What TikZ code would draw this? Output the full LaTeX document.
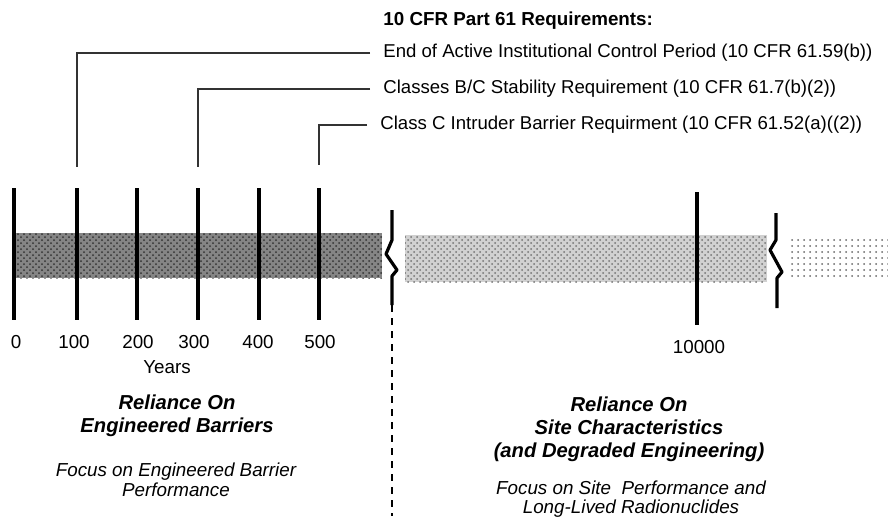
\documentclass[tikz,border=0pt]{standalone}
\usepackage{fontspec}
\setmainfont{Liberation Sans}
\usetikzlibrary{patterns,positioning}

\begin{document}
\begin{tikzpicture}[x=0.5pt,y=-0.5pt,
    tick/.style={line width=1.6pt},
    brk/.style={line width=1.6pt,line join=round},
    leader/.style={line width=0.55pt,black!80},
    req/.style={anchor=west,inner xsep=6.5pt,inner ysep=0pt,font=\fontsize{9.3}{11}\selectfont},
    yrlabel/.style={inner sep=0pt,font=\fontsize{9.4}{11}\selectfont},
    head/.style={align=center,inner sep=0pt,font=\fontsize{10.1}{11.5}\selectfont\bfseries\itshape},
    focus/.style={align=center,inner sep=0pt,font=\fontsize{9.4}{9.8}\selectfont\itshape}]
  \useasboundingbox (0,0) rectangle (888,516);
  % bands
  \fill[black!48] (14,233) rectangle (382,278);
  \fill[pattern=crosshatch dots,pattern color=black!80] (14,233) rectangle (382,278);
  \fill[black!18] (405,235) rectangle (767,282);
  \fill[pattern=crosshatch dots,pattern color=black!55] (405,235) rectangle (767,282);
  \fill[pattern=dots,pattern color=black!60] (788,238) rectangle (888,280);
  % ticks and years
  \foreach \x/\lx/\v in {14/16/0,77/74/100,137/138/200,198/194/300,259/258/400,319/320/500}{
    \draw[tick] (\x,188) -- (\x,320);
    \node[yrlabel] (y\v) at (\lx,342) {\v};
  }
  \draw[tick] (697,192) -- (697,325);
  \node[yrlabel] (y10000) at (699,347) {10000};
  \node[yrlabel] (years) at (167,367) {Years};
  % breaks
  \draw[brk] (392,210) -- (392,240) -- (386,254) -- (397,270) -- (392,276) -- (392,305);
  \draw[line width=0.6pt,dash pattern=on 3.5pt off 3pt] (392,305) -- (392,516);
  \draw[brk] (776,213) -- (776,240) -- (770,250) -- (782,272) -- (777,278) -- (777,308);
  % requirements
  \node[anchor=west,inner sep=0pt,font=\fontsize{9.4}{11}\selectfont\bfseries] (title) at (383,21)
       {10 CFR Part 61 Requirements:};
  \node[req] (req1) at (370,53) {End of Active Institutional Control Period (10 CFR 61.59(b))};
  \node[req] (req2) at (370,89) {Classes B/C Stability Requirement (10 CFR 61.7(b)(2))};
  \node[req] (req3) at (367,125) {Class C Intruder Barrier Requirment (10 CFR 61.52(a)((2))};
  \coordinate (c100) at (77,167);
  \coordinate (c300) at (198,167);
  \coordinate (c500) at (319,165);
  \draw[leader] (req1.west) -| (c100);
  \draw[leader] (req2.west) -| (c300);
  \draw[leader] (req3.west) -| (c500);
  % reliance
  \node[head] (relyL) at (177,416) {Reliance On\\Engineered Barriers};
  \node[focus] (focusL) at (176,480) {Focus on Engineered Barrier\\Performance};
  \node[head] (relyR) at (629,429) {Reliance On\\Site Characteristics\\(and Degraded Engineering)};
  \node[focus] (focusR) at (631,499) {Focus on Site\ \ Performance and\\Long-Lived Radionuclides};
\end{tikzpicture}
\end{document}
